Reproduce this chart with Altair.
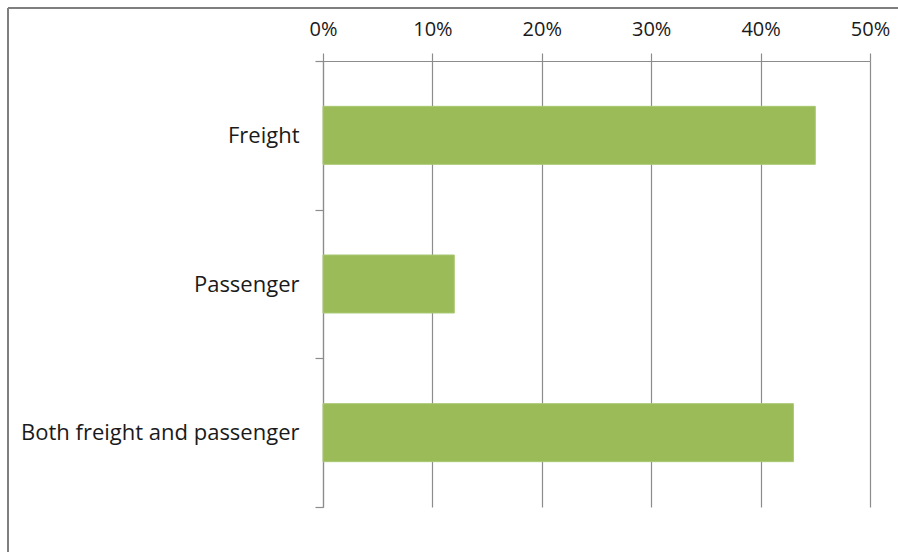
import altair as alt
import pandas as pd

categories = ["Freight", "Passenger", "Both freight and passenger"]
shares = [0.45, 0.12, 0.43]
x_ticks = [0, 0.1, 0.2, 0.3, 0.4, 0.5]

df = pd.DataFrame({"category": categories, "share": shares})

W, H = 547, 446
L, T = 323, 61
FONT = "Open Sans"
GRID = "#8c8c8c"

bars = alt.Chart(df).mark_bar(color="#9BBB59", stroke="#a9c873", strokeWidth=1,
                              height=alt.RelativeBandSize(0.39)).encode(
    x=alt.X("share:Q",
            scale=alt.Scale(domain=[0, 0.5], nice=False),
            axis=alt.Axis(orient="top", values=x_ticks, format=".0%", title=None,
                          grid=True, gridColor=GRID, gridWidth=1.2,
                          domainColor=GRID, domainWidth=1.2,
                          tickColor=GRID, tickSize=8, tickWidth=1.2,
                          labelFont=FONT, labelFontSize=20, labelColor="#1a1a1a",
                          labelFlush=False, labelPadding=14)),
    y=alt.Y("category:N", sort=categories,
            scale=alt.Scale(paddingInner=0, paddingOuter=0),
            axis=alt.Axis(title=None, tickBand="extent", grid=False,
                          domainColor=GRID, domainWidth=1.2,
                          tickColor=GRID, tickSize=8, tickWidth=1.2,
                          labelFont=FONT, labelFontSize=22, labelColor="#1a1a1a",
                          labelPadding=16, labelLimit=400)),
)

frame_top = alt.Chart(df).mark_rule(color="#7f7f7f", strokeWidth=2).encode(
    x=alt.value(8 - L), x2=alt.value(898 - L), y=alt.value(8 - T))
frame_left = alt.Chart(df).mark_rule(color="#7f7f7f", strokeWidth=2).encode(
    x=alt.value(8 - L), y=alt.value(8 - T), y2=alt.value(552 - T))

chart = alt.layer(bars, frame_top, frame_left).properties(
    width=W, height=H,
    autosize=alt.AutoSizeParams(type="none"),
    padding={"left": L, "top": T, "right": 898 - L - W, "bottom": 552 - T - H},
    background="white",
).configure_view(stroke=None)

chart.save("out.html", embed_options={"renderer": "svg", "actions": False})
